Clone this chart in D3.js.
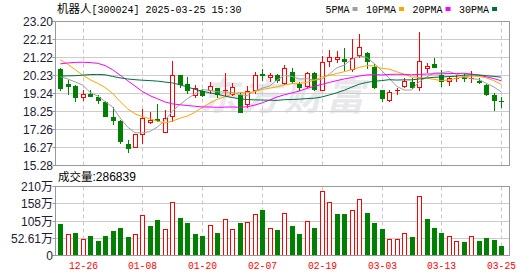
<!DOCTYPE html>
<html>
<head>
<meta charset="utf-8">
<script src="https://cdn.jsdelivr.net/npm/d3@7"></script>
<style>
  html, body { margin: 0; padding: 0; background: #fff; }
  svg { display: block; }
</style>
</head>
<body>
<div id="chart"></div>
<script>
// trading days 2024-12-23 .. 2025-03-25
const dates = [
  "12-23","12-24","12-25","12-26","12-27","12-30","12-31","01-02","01-03","01-06",
  "01-07","01-08","01-09","01-10","01-13","01-14","01-15","01-16","01-17","01-20",
  "01-21","01-22","01-23","01-24","01-27","02-05","02-06","02-07","02-10","02-11",
  "02-12","02-13","02-14","02-17","02-18","02-19","02-20","02-21","02-24","02-25",
  "02-26","02-27","02-28","03-03","03-04","03-05","03-06","03-07","03-10","03-11",
  "03-12","03-13","03-14","03-17","03-18","03-19","03-20","03-21","03-24","03-25"
];

const openPrices = [20.57,19.77,19.66,18.98,19.24,19.07,18.76,17.95,17.75,16.49,16.27,16.96,17.61,17.84,17.06,17.92,20.26,19.75,19.13,19.40,19.40,19.53,19.35,19.16,19.16,18.61,19.35,20.30,20.11,20.25,19.78,20.41,19.75,19.58,20.35,19.35,20.99,21.07,21.14,20.54,21.32,21.45,20.72,19.44,18.80,19.38,19.62,19.86,19.56,20.57,20.87,20.26,19.89,20.04,20.17,20.08,19.93,19.71,19.16,18.80];
const closePrices = [19.47,19.62,18.98,19.20,19.07,18.80,17.97,17.75,16.56,16.18,17.00,17.88,17.81,17.75,17.88,20.26,19.71,19.40,19.55,19.13,19.68,19.16,19.44,19.62,18.19,19.35,20.26,20.22,20.24,19.92,20.66,19.86,19.53,20.35,19.44,20.99,21.23,21.23,20.99,21.18,21.78,20.99,19.53,18.92,19.31,19.44,19.93,19.53,21.03,20.76,20.66,19.89,20.08,20.11,20.04,20.11,19.84,19.16,18.85,18.76];
const highPrices = [20.63,19.99,19.71,19.42,19.44,19.14,18.83,18.52,17.79,16.69,17.00,18.39,18.21,18.65,18.34,21.03,20.26,20.15,19.70,19.49,19.86,19.53,20.35,19.80,19.25,19.66,20.44,20.61,20.35,20.30,20.81,20.66,19.89,20.44,20.44,21.30,21.63,21.58,21.76,22.24,22.51,21.54,20.85,19.44,19.42,19.57,20.08,20.08,22.60,20.94,21.21,20.54,20.17,20.26,20.30,20.48,20.08,19.75,19.25,19.07];
const lowPrices = [19.35,19.16,18.76,18.80,19.02,18.65,17.93,17.48,16.45,15.99,16.27,16.49,17.55,17.70,17.06,17.66,19.56,19.20,19.00,19.07,19.22,19.00,19.13,19.11,18.14,18.43,19.22,19.93,19.89,19.80,19.71,19.75,19.38,19.53,19.40,19.35,20.72,20.94,20.50,20.44,21.18,20.57,19.47,18.76,18.76,19.16,19.53,19.47,19.40,20.35,20.63,19.62,19.68,19.89,19.89,19.80,19.77,19.12,18.25,18.47];

// volume in 万 (10k shares), and up/down flag for bar colour
const volumes = [95.3,66.7,67.6,51.3,58.4,43.0,58.4,73.8,83.0,55.4,66.7,122.0,89.0,107.6,82.0,162.0,113.8,98.4,64.6,58.4,94.3,67.6,112.7,82.0,98.4,103.5,128.0,138.4,85.1,76.9,128.1,89.2,64.6,106.6,83.0,195.8,162.0,126.0,126.0,137.4,171.2,129.2,98.4,80.0,51.3,51.3,69.7,55.4,180.4,110.7,83.0,68.7,60.5,45.1,40.0,60.5,43.0,52.3,46.1,28.6839];
const volumeUp = [0,1,0,1,0,0,0,0,0,0,1,1,0,0,1,1,0,0,0,0,1,0,1,1,0,1,1,0,1,0,1,0,0,1,0,1,1,0,0,1,1,0,0,0,1,1,1,0,1,0,0,0,1,1,0,1,0,0,0,0];

const ma5 = [20.17,20.04,19.88,19.70,19.30,19.10,18.80,18.50,17.90,17.40,17.08,17.07,17.15,17.40,17.75,18.27,18.63,18.95,19.22,19.45,19.42,19.33,19.32,19.30,19.18,19.13,19.37,19.53,19.65,19.98,20.24,20.18,20.04,20.06,19.97,20.03,20.31,20.65,20.80,21.12,21.30,21.23,20.89,20.50,20.08,19.64,19.43,19.43,19.88,20.14,20.37,20.38,20.45,20.30,20.16,20.05,20.02,19.80,19.60,19.33];
const ma10 = [21.10,20.85,20.55,20.25,20.00,19.80,19.57,19.25,18.80,18.40,18.12,17.96,17.85,17.72,17.62,17.72,17.88,18.00,18.20,18.47,18.72,18.92,19.06,19.22,19.30,19.28,19.34,19.46,19.53,19.61,19.71,19.78,19.79,19.86,19.98,20.15,20.24,20.34,20.44,20.55,20.68,20.77,20.76,20.62,20.58,20.44,20.30,20.15,20.12,20.08,20.02,19.95,19.98,20.08,20.15,20.20,20.18,20.10,19.95,19.74];
const ma20 = [20.87,20.92,20.95,20.96,20.94,20.90,20.78,20.55,20.25,19.95,19.65,19.35,19.12,18.95,18.78,18.67,18.62,18.58,18.54,18.50,18.50,18.48,18.49,18.50,18.48,18.51,18.60,18.72,18.88,19.05,19.17,19.27,19.38,19.52,19.64,19.74,19.85,19.95,20.04,20.12,20.20,20.26,20.28,20.26,20.29,20.30,20.29,20.27,20.29,20.31,20.32,20.32,20.34,20.34,20.35,20.31,20.25,20.16,20.06,19.94];
const ma30 = [20.20,20.21,20.22,20.25,20.28,20.29,20.27,20.18,20.10,20.04,20.00,19.97,19.95,19.92,19.87,19.82,19.72,19.60,19.47,19.37,19.28,19.20,19.10,19.02,18.95,18.91,18.89,18.88,18.87,18.86,18.90,18.91,18.93,18.96,18.98,19.05,19.16,19.28,19.42,19.59,19.75,19.85,19.91,19.95,20.00,19.98,19.99,19.99,20.04,20.09,20.13,20.15,20.17,20.19,20.25,20.27,20.26,20.22,20.18,20.14];

const priceTicks = [15.28,16.27,17.26,18.25,19.24,20.23,21.22,22.21,23.20];
const volumeTicks = [0,52.61,105.22,157.83,210.44];
const volumeTickLabels = ["0","52.61万","105万","158万","210万"];
const dateTicks = ["12-26","01-08","01-20","02-07","02-19","03-03","03-13","03-25"];

const maNames = ["5PMA","10PMA","20PMA","30PMA"];
const maColors = ["#a0a0a0","#ffa500","#ff00ff","#00703c"];

const RED = "#ff0000", GREEN = "#008000";
const monoFont = "'Liberation Mono', 'Noto Sans CJK SC', monospace";
const sansFont = "'Liberation Sans', Arial, 'Noto Sans CJK SC', sans-serif";
const cjkFont = "'Noto Sans CJK SC', sans-serif";

const width = 530, height = 276;
const plot = { left: 55.5, right: 509.5 };
const pricePanel = { top: 21.5, bottom: 165.5 };
const volPanel = { top: 186.5, bottom: 255.5 };

const candles = dates.map((d, i) => ({
  date: d, i,
  open: openPrices[i], close: closePrices[i],
  high: highPrices[i], low: lowPrices[i],
  vol: volumes[i], volUp: volumeUp[i] === 1
}));

const svg = d3.select("#chart").append("svg")
  .attr("width", width).attr("height", height);

const x = d3.scaleBand().domain(dates).range([56.5, 505]).padding(0);
const cx = d => Math.round(x(d) + x.bandwidth() / 2);

const yPrice = d3.scaleLinear().domain([15.28, 23.20]).range([pricePanel.bottom, pricePanel.top]);
const yVol = d3.scaleLinear().domain([0, 210.44]).range([volPanel.bottom, volPanel.top]);
const crisp = v => Math.round(v - 0.5) + 0.5;

// watermark
svg.append("text")
  .attr("x", 200).attr("y", 110)
  .attr("font-family", cjkFont).attr("font-size", 38).attr("font-weight", "bold")
  .attr("font-style", "italic").attr("letter-spacing", 4)
  .attr("fill", "#e8e8ec")
  .text("东方财富");

// horizontal grid
const grid = svg.append("g").attr("stroke", "#cccccc").attr("stroke-width", 1);
priceTicks.slice(1, -1).forEach(t => {
  grid.append("line").attr("x1", plot.left).attr("x2", plot.right)
    .attr("y1", crisp(yPrice(t))).attr("y2", crisp(yPrice(t)));
});
volumeTicks.slice(1, -1).forEach(t => {
  grid.append("line").attr("x1", plot.left).attr("x2", plot.right)
    .attr("y1", crisp(yVol(t))).attr("y2", crisp(yVol(t)));
});

// vertical dashed grid at date ticks
const vgrid = svg.append("g").attr("stroke", "#c8c8c8").attr("stroke-dasharray", "4,3");
dateTicks.forEach(d => {
  const xx = cx(d) + 0.5;
  vgrid.append("line").attr("x1", xx).attr("x2", xx).attr("y1", pricePanel.top).attr("y2", pricePanel.bottom);
  vgrid.append("line").attr("x1", xx).attr("x2", xx).attr("y1", volPanel.top).attr("y2", volPanel.bottom);
});

// candles
const cg = svg.append("g");
candles.forEach(c => {
  const px = cx(c.date);
  const top = Math.round(yPrice(Math.max(c.open, c.close)));
  const bot = Math.round(yPrice(Math.min(c.open, c.close)));
  const hi = Math.round(yPrice(c.high));
  const lo = Math.round(yPrice(c.low));
  if (c.close >= c.open) {
    if (top > hi) cg.append("line").attr("x1", px + 0.5).attr("x2", px + 0.5).attr("y1", hi).attr("y2", top).attr("stroke", RED);
    if (lo > bot) cg.append("line").attr("x1", px + 0.5).attr("x2", px + 0.5).attr("y1", bot).attr("y2", lo).attr("stroke", RED);
    if (bot - top >= 2) {
      cg.append("rect").attr("x", px - 1.5).attr("y", top + 0.5)
        .attr("width", 4).attr("height", bot - top - 1)
        .attr("fill", "#fff").attr("stroke", RED);
    } else {
      cg.append("line").attr("x1", px - 2).attr("x2", px + 3).attr("y1", top + 0.5).attr("y2", top + 0.5).attr("stroke", RED);
    }
  } else {
    cg.append("line").attr("x1", px + 0.5).attr("x2", px + 0.5).attr("y1", hi).attr("y2", lo).attr("stroke", GREEN);
    cg.append("rect").attr("x", px - 2).attr("y", top)
      .attr("width", 5).attr("height", Math.max(1, bot - top))
      .attr("fill", GREEN);
  }
});

// moving averages
const maSeries = [ma5, ma10, ma20, ma30];
const line = d3.line().x((v, i) => x(dates[i]) + x.bandwidth() / 2).y(v => yPrice(v));
maSeries.forEach((s, k) => {
  svg.append("path").datum(s).attr("d", line)
    .attr("fill", "none").attr("stroke", maColors[k]).attr("stroke-width", 1);
});

// volume bars
const vg = svg.append("g");
candles.forEach(c => {
  const px = cx(c.date);
  const top = Math.round(yVol(c.vol));
  const base = Math.round(yVol(0));
  if (c.volUp) {
    vg.append("rect").attr("x", px - 1.5).attr("y", top + 0.5)
      .attr("width", 4).attr("height", Math.max(0, base - top - 1))
      .attr("fill", "#fff").attr("stroke", RED);
  } else {
    vg.append("rect").attr("x", px - 2).attr("y", top)
      .attr("width", 5).attr("height", base - top)
      .attr("fill", GREEN);
  }
});

// panel borders
[pricePanel, volPanel].forEach(p => {
  svg.append("rect").attr("x", plot.left).attr("y", p.top)
    .attr("width", plot.right - plot.left).attr("height", p.bottom - p.top)
    .attr("fill", "none").attr("stroke", "#999");
});

// left axes
const axisG = svg.append("g").attr("font-family", sansFont).attr("font-size", 12).attr("fill", "#1c1c34");
priceTicks.forEach(t => {
  const yy = crisp(yPrice(t));
  axisG.append("line").attr("x1", plot.left - 3).attr("x2", plot.left).attr("y1", yy).attr("y2", yy).attr("stroke", "#999");
  axisG.append("text").attr("x", 53).attr("y", yy).attr("dy", "0.36em")
    .attr("text-anchor", "end").text(d3.format(".2f")(t));
});
volumeTicks.forEach((t, k) => {
  const yy = crisp(yVol(t));
  axisG.append("line").attr("x1", plot.left - 3).attr("x2", plot.left).attr("y1", yy).attr("y2", yy).attr("stroke", "#999");
  axisG.append("text").attr("x", 53).attr("y", yy).attr("dy", "0.36em")
    .attr("text-anchor", "end").text(volumeTickLabels[k]);
});

// date labels
dateTicks.forEach(d => {
  svg.append("text").attr("x", cx(d) + 0.5).attr("y", 269)
    .attr("text-anchor", "middle").attr("font-family", monoFont).attr("font-size", 11)
    .attr("textLength", 29).attr("lengthAdjust", "spacingAndGlyphs")
    .attr("fill", RED).text(d);
});

// title
const title = svg.append("text").attr("x", 57).attr("y", 13).attr("fill", "#000");
title.append("tspan").attr("font-family", cjkFont).attr("font-size", 11.5).text("机器人");
title.append("tspan").attr("font-family", monoFont).attr("font-size", 10).text("[300024] 2025-03-25 15:30");

// legend
let lx = 325.5;
maNames.forEach((name, k) => {
  const t = svg.append("text").attr("x", lx).attr("y", 13)
    .attr("font-family", monoFont).attr("font-size", 10).attr("fill", "#000").text(name);
  const w = t.node().getComputedTextLength();
  svg.append("rect").attr("x", lx + w + 3).attr("y", 7).attr("width", 5).attr("height", 4).attr("fill", maColors[k]);
  lx += w + 3 + 5 + 8.5;
});

// volume caption (last day's volume in shares)
const vcap = svg.append("text").attr("x", 58).attr("y", 181).attr("fill", "#000");
vcap.append("tspan").attr("font-family", cjkFont).attr("font-size", 11.5).text("成交量");
vcap.append("tspan").attr("font-family", sansFont).attr("font-size", 12)
  .text(":" + Math.round(volumes[volumes.length - 1] * 10000));
</script>
</body>
</html>
